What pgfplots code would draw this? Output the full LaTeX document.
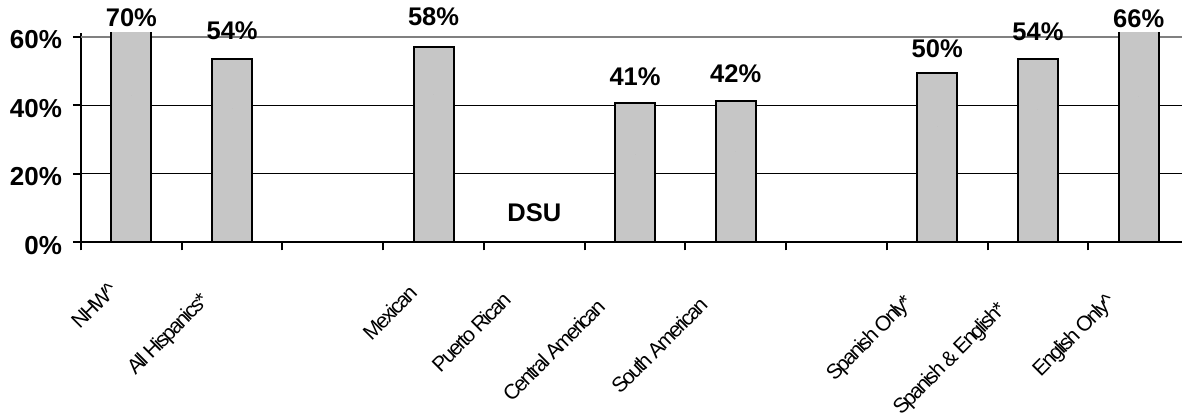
\documentclass[border=0pt]{standalone}
\usepackage{pgfplots}
\pgfplotsset{compat=1.18}
\usepackage{pgfplotstable}
\usepackage{calc}
\usepackage{fontspec}
\setmainfont{Liberation Sans}
\newfontfamily\narrowfont[LetterSpace=-9.5]{Liberation Sans}
\definecolor{barfill}{RGB}{198,198,198}
\newlength\xltmp
\newcommand\xl[1]{\setlength\xltmp{\widthof{#1}*\real{0.28}+9pt}#1\hspace*{\xltmp}}

% bar heights (percent)
\pgfplotstableread{
x val
0 70
1 53.5
3 57
5 40.6
6 41.3
8 49.4
9 53.5
10 66
}\bars

% value labels: x, label base (data units, shifted down by 20), text
\pgfplotstableread{
x laby lab
0 42.9 70
1 39.0 54
3 43.0 58
5 25.6 41
6 26.6 42
8 33.7 50
9 38.8 54
10 42.6 66
}\labels

\begin{document}
\begin{tikzpicture}
\path[use as bounding box] (0,0) rectangle (591pt,209pt);
\begin{axis}[
  at={(40.5pt,87.85pt)}, anchor=south west,
  scale only axis, width=550.5pt, height=104.65pt,
  xmin=-0.5, xmax=10.43, ymin=0, ymax=61.1,
  axis x line*=bottom, axis y line*=left,
  axis line style={line width=1pt, black},
  tick align=outside,
  major tick length=4pt,
  tick style={black, line width=1pt},
  xtick={-0.5,0.5,...,9.5},
  xticklabels={},
  extra x ticks={0,1,2,3,4,5,6,7,8,9,10},
  extra x tick labels={{\xl{NHW\textasciicircum}}, {\xl{All Hispanics*}}, {}, {\xl{Mexican}}, {\xl{Puerto Rican}}, {\xl{Central American}}, {\xl{South American}}, {}, {\xl{Spanish Only*}}, {\xl{Spanish \& English*}}, {\xl{English Only\textasciicircum}}},
  extra x tick style={major tick length=0pt,
    xticklabel shift=7.5pt,
    xticklabel style={font=\narrowfont\fontsize{10.5}{12}\selectfont, inner sep=0pt, anchor=north east, rotate=45}},
  ytick={0,20,40},
  yticklabels={0\%,20\%,40\%},
  extra y ticks={60},
  extra y tick labels={60\%},
  extra y tick style={grid style={gray, line width=0.8pt}},
  yticklabel style={font=\bfseries\fontsize{13}{15}\selectfont, xshift=-2pt, yshift=-1.5pt},
  ymajorgrids,
  grid style={black, line width=0.5pt},
  every node near coord/.append style={inner sep=0pt, yshift=34.25pt, font=\bfseries\fontsize{12.75}{14}\selectfont, black},
]
\addplot[ybar, bar width=20pt, fill=barfill, draw=black, line width=1pt] table[x=x, y=val] {\bars};
\addplot[only marks, mark=*, mark size=0pt, mark options={draw=none, fill=none},
  scatter/use mapped color={draw=none, fill=none},
  point meta=explicit symbolic,
  nodes near coords={\pgfplotspointmeta\%}]
  table[x=x, y=laby, meta=lab] {\labels};
\node[font=\bfseries\fontsize{12.75}{14}\selectfont] at (axis cs:4,8.55) {DSU};
\end{axis}
\end{tikzpicture}
\end{document}
